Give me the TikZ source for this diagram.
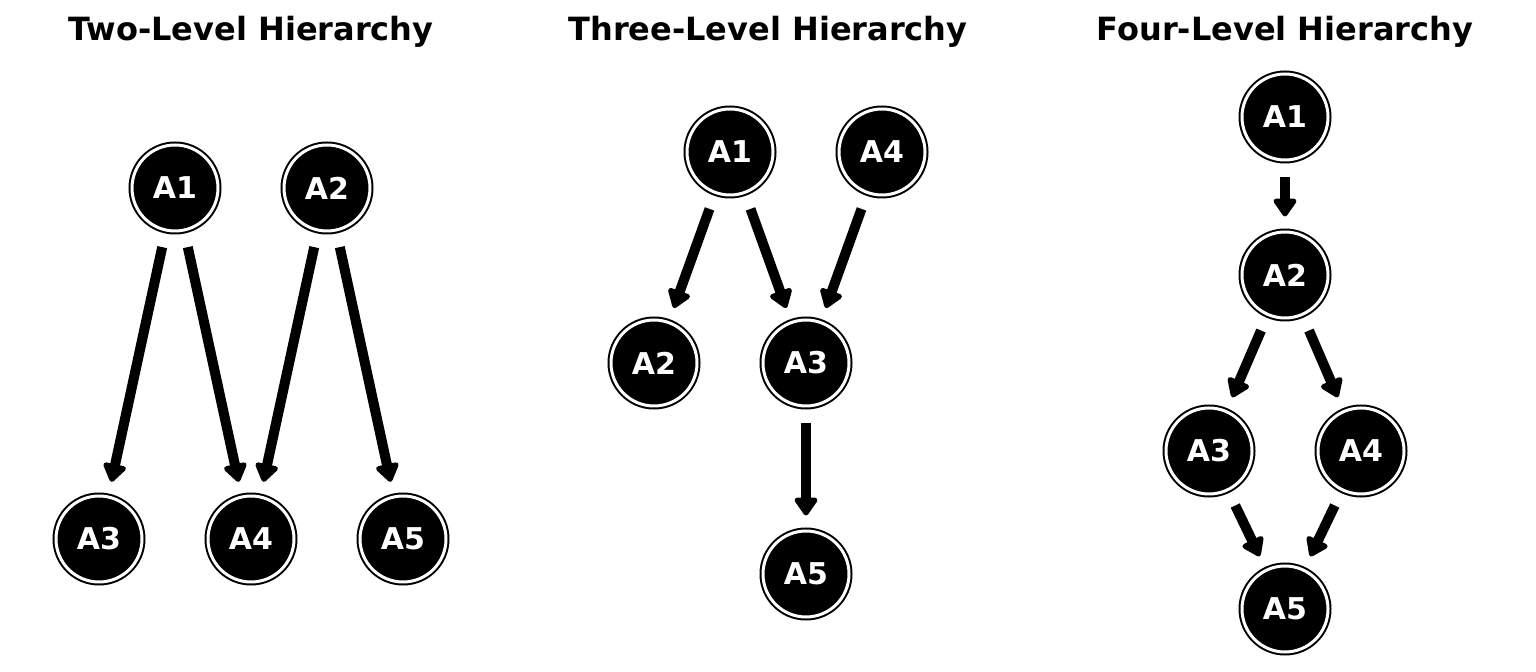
\documentclass[tikz,border=0pt]{standalone}
\usepackage{fontspec}
\setmainfont{DejaVu Sans}
\usetikzlibrary{arrows.meta}

\begin{document}
\begin{tikzpicture}[x=0.5pt, y=-0.5pt,
    agent/.style={circle, fill=black, draw=black, line width=1pt, double=white, double distance=1.5pt, minimum size=43pt, inner sep=0pt, outer sep=1.75pt, text=white, font=\fontsize{15}{18}\selectfont\bfseries},
    flow/.style={-{Triangle[width=13pt, length=10pt, round]}, line width=5pt, shorten <=7pt, shorten >=6pt},
    panel/.style={anchor=base, font=\fontsize{16}{19}\selectfont\bfseries}]
    \useasboundingbox (0,0) rectangle (1536,672);
    % Titles
    \node[panel] (two) at (251,41) {Two-Level Hierarchy};
    \node[panel] (three) at (768,41) {Three-Level Hierarchy};
    \node[panel] (four) at (1285,41) {Four-Level Hierarchy};
    % Two levels
    \node[agent] (p1a1) at (175,188) {A1};
    \node[agent] (p1a2) at (327,188) {A2};
    \node[agent] (p1a3) at (99,539) {A3};
    \node[agent] (p1a4) at (251,539) {A4};
    \node[agent] (p1a5) at (403,539) {A5};
    \draw[flow] (p1a1) -- (p1a3);
    \draw[flow] (p1a1) -- (p1a4);
    \draw[flow] (p1a2) -- (p1a4);
    \draw[flow] (p1a2) -- (p1a5);
    % Three levels
    \node[agent] (p2a1) at (730,152) {A1};
    \node[agent] (p2a4) at (882,152) {A4};
    \node[agent] (p2a2) at (654,363) {A2};
    \node[agent] (p2a3) at (806,363) {A3};
    \node[agent] (p2a5) at (806,574) {A5};
    \draw[flow] (p2a1) -- (p2a2);
    \draw[flow] (p2a1) -- (p2a3);
    \draw[flow] (p2a4) -- (p2a3);
    \draw[flow] (p2a3) -- (p2a5);
    % Four levels
    \node[agent] (p3a1) at (1285,117) {A1};
    \node[agent] (p3a2) at (1285,275) {A2};
    \node[agent] (p3a3) at (1209,451) {A3};
    \node[agent] (p3a4) at (1361,451) {A4};
    \node[agent] (p3a5) at (1285,609) {A5};
    \draw[flow] (p3a1) -- (p3a2);
    \draw[flow] (p3a2) -- (p3a3);
    \draw[flow] (p3a2) -- (p3a4);
    \draw[flow] (p3a3) -- (p3a5);
    \draw[flow] (p3a4) -- (p3a5);
\end{tikzpicture}
\end{document}
